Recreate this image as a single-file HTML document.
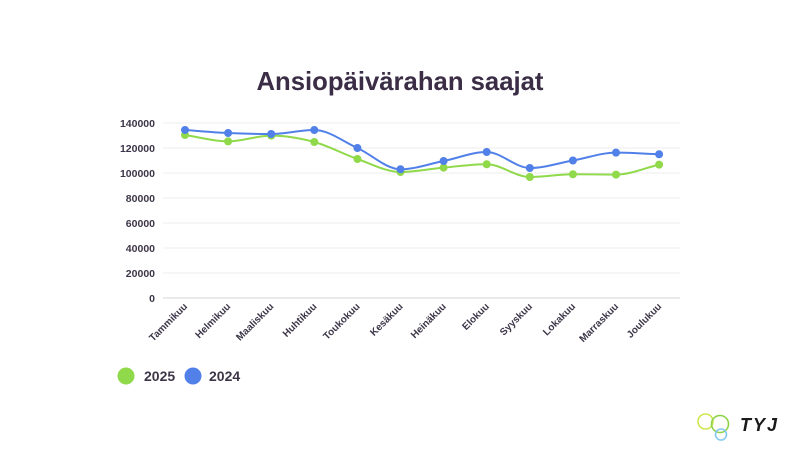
<!DOCTYPE html>
<html>
<head>
<meta charset="utf-8">
<style>
html,body{margin:0;padding:0;background:#fff;}
body{width:800px;height:450px;overflow:hidden;}
svg{display:block;}
text{font-family:"Liberation Sans",Arial,sans-serif;}
</style>
</head>
<body>
<svg id="c" width="800" height="450" viewBox="0 0 800 450" xmlns="http://www.w3.org/2000/svg">
  <rect width="800" height="450" fill="#ffffff"/>
  <text x="400" y="90" text-anchor="middle" font-size="26" font-weight="bold" fill="#3a2d45" textLength="287" lengthAdjust="spacingAndGlyphs">Ansiopäivärahan saajat</text>
  <g id="grid" stroke="#ececec" stroke-width="1"></g>
  <g id="ylab" font-size="10.5" font-weight="bold" fill="#3d3648" text-anchor="end"></g>
  <g id="xlab" font-size="10" font-weight="bold" fill="#3d3648" text-anchor="end"></g>
  <path id="l25" fill="none" stroke="#8fd94a" stroke-width="2"/>
  <path id="l24" fill="none" stroke="#5080e8" stroke-width="2"/>
  <g id="m25" fill="#8fd94a"></g>
  <g id="m24" fill="#5080e8"></g>
  <!-- legend -->
  <circle cx="126" cy="376" r="8.5" fill="#8fd94a"/>
  <text x="144" y="381" font-size="14" font-weight="bold" fill="#3d3648">2025</text>
  <circle cx="193" cy="376" r="8.5" fill="#5080e8"/>
  <text x="209" y="381" font-size="14" font-weight="bold" fill="#3d3648">2024</text>
  <!-- logo -->
  <circle cx="705.5" cy="421.5" r="7.5" fill="none" stroke="#cde84e" stroke-width="1.6"/>
  <circle cx="720" cy="424" r="8.5" fill="none" stroke="#8fd34a" stroke-width="1.6"/>
  <circle cx="721" cy="434.5" r="5.5" fill="none" stroke="#86c8ef" stroke-width="1.6"/>
  <text x="740" y="431" font-size="18" font-weight="bold" font-style="italic" fill="#1a1a1a" letter-spacing="2">TYJ</text>
</svg>
<script>
(function(){
  var NS="http://www.w3.org/2000/svg";
  function el(t,a,p,txt){var e=document.createElementNS(NS,t);for(var k in a)e.setAttribute(k,a[k]);if(txt!==undefined)e.textContent=txt;p.appendChild(e);return e;}
  function Y(v){return 298-v*0.00125;}
  var grid=document.getElementById('grid'),yl=document.getElementById('ylab'),xl=document.getElementById('xlab');
  for(var v=0;v<=140000;v+=20000){
    var y=Y(v);
    el('line',{x1:163,x2:680,y1:y,y2:y,stroke:v===0?'#d4d4d4':'#ececec'},grid);
    el('text',{x:155,y:y+3.8},yl,String(v));
  }
  var months=["Tammikuu","Helmikuu","Maaliskuu","Huhtikuu","Toukokuu","Kesäkuu","Heinäkuu","Elokuu","Syyskuu","Lokakuu","Marraskuu","Joulukuu"];
  var xs=[];for(var i=0;i<12;i++)xs.push(185+i*43.1);
  months.forEach(function(m,i){
    var x=xs[i]+3,y=307;
    el('text',{x:x,y:y,transform:'rotate(-45 '+x+' '+y+')'},xl,m);
  });
  var d25=[130400,125300,129900,124800,111200,100800,104300,107000,96800,99000,98700,106700];
  var d24=[134400,132000,131200,134400,120000,103000,109600,116800,104000,110000,116300,115000];
  function mono(px,py){
    var n=px.length,dx=[],s=[],m=[];
    for(var i=0;i<n-1;i++){dx[i]=px[i+1]-px[i];s[i]=(py[i+1]-py[i])/dx[i];}
    m[0]=s[0];m[n-1]=s[n-2];
    for(var i=1;i<n-1;i++){
      if(s[i-1]*s[i]<=0)m[i]=0;
      else{var h0=dx[i-1],h1=dx[i];var p=(s[i-1]*h1+s[i]*h0)/(h0+h1);
        m[i]=(Math.sign(s[i-1])+Math.sign(s[i]))*Math.min(Math.abs(s[i-1]),Math.abs(s[i]),0.5*Math.abs(p));}
    }
    var d='M'+px[0]+','+py[0];
    for(var i=0;i<n-1;i++){var h=dx[i]/3;
      d+=' C'+(px[i]+h)+','+(py[i]+m[i]*h)+' '+(px[i+1]-h)+','+(py[i+1]-m[i+1]*h)+' '+px[i+1]+','+py[i+1];}
    return d;
  }
  [[d25,'l25','m25'],[d24,'l24','m24']].forEach(function(a){
    var ys=a[0].map(Y);
    document.getElementById(a[1]).setAttribute('d',mono(xs,ys));
    var g=document.getElementById(a[2]);
    ys.forEach(function(y,i){el('circle',{cx:xs[i],cy:y,r:4},g);});
  });
})();
</script>
</body>
</html>
